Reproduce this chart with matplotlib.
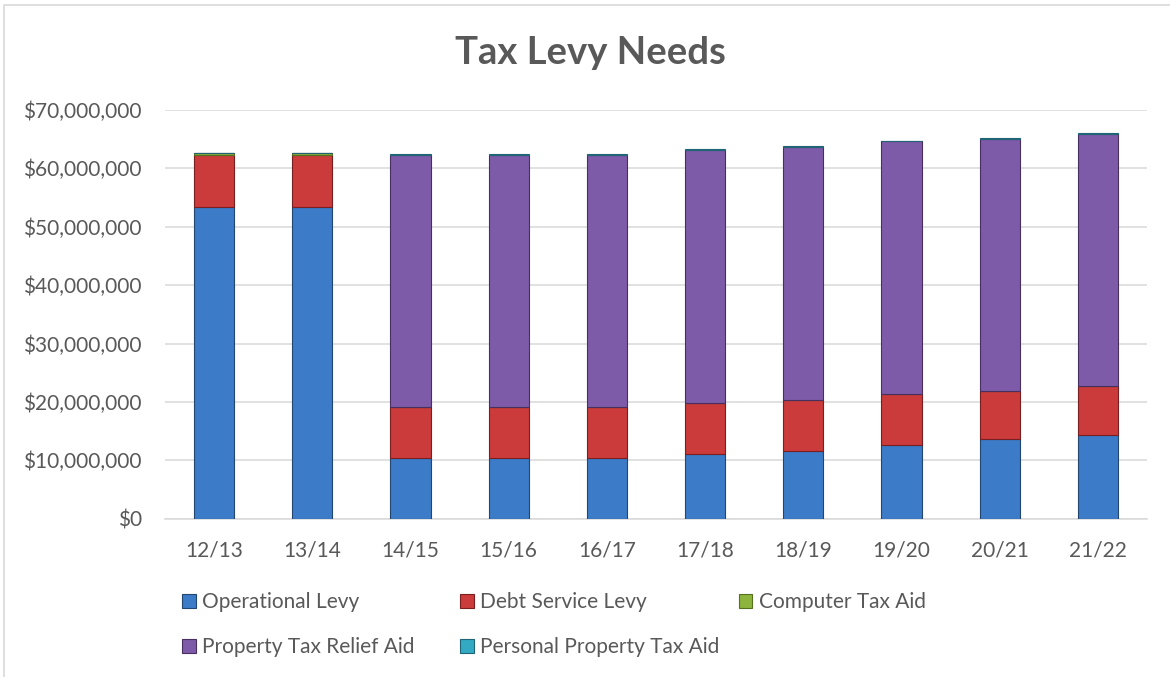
import matplotlib
matplotlib.use("Agg")
import matplotlib.pyplot as plt
from matplotlib.patches import Rectangle, Patch
from matplotlib.ticker import FuncFormatter, MultipleLocator
import numpy as np

# ---- data (millions of dollars) ----
years = ["12/13", "13/14", "14/15", "15/16", "16/17", "17/18", "18/19", "19/20", "20/21", "21/22"]
operational_levy = [53.4, 53.4, 10.4, 10.4, 10.4, 11.1, 11.6, 12.7, 13.6, 14.4]
debt_service_levy = [8.9, 8.9, 8.8, 8.8, 8.8, 8.75, 8.7, 8.7, 8.3, 8.3]
computer_tax_aid = [0.3, 0.3, 0, 0, 0, 0, 0, 0, 0, 0]
property_tax_relief_aid = [0, 0, 43.1, 43.1, 43.1, 43.35, 43.4, 43.2, 43.2, 43.2]
personal_property_tax_aid = [0, 0, 0.1, 0.1, 0.1, 0.1, 0.1, 0.1, 0.1, 0.1]

series_names = ["Operational Levy", "Debt Service Levy", "Computer Tax Aid",
                "Property Tax Relief Aid", "Personal Property Tax Aid"]
series_values = [operational_levy, debt_service_levy, computer_tax_aid,
                 property_tax_relief_aid, personal_property_tax_aid]
face_colors = ["#3c7bc7", "#cc3b3b", "#8db43c", "#7d5ba8", "#34a9c4"]
edge_colors = ["#22466f", "#7a1f1f", "#55701f", "#47305f", "#1f6577"]

FONT = "Lato"
TXT = "#595959"
W, H = 1170, 677

fig = plt.figure(figsize=(W / 100, H / 100), dpi=100)
fig.patch.set_facecolor("white")

def fx(px):
    return px / W

def fy(py):
    return 1 - py / H

ax = fig.add_axes([fx(165), fy(518.7), fx(1147) - fx(165), fy(109.9) - fy(518.7)])

x = np.arange(len(years))
bottom = np.zeros(len(years))
for name, vals, fc, ec in zip(series_names, series_values, face_colors, edge_colors):
    v = np.array(vals) * 1e6
    ax.bar(x, v, width=0.41, bottom=bottom, color=fc, edgecolor=ec, linewidth=0.8,
           zorder=3, label=name)
    bottom += v

ax.set_xlim(-0.5, len(years) - 0.5)
ax.set_ylim(0, 70e6)
ax.yaxis.set_major_locator(MultipleLocator(10e6))
ax.yaxis.set_major_formatter(FuncFormatter(lambda v, p: "${:,.0f}".format(v)))
ax.set_xticks(x)
ax.set_xticklabels(years)
ax.grid(axis="y", color="#d9d9d9", linewidth=1.1, zorder=0)
for s in ["top", "right", "left"]:
    ax.spines[s].set_visible(False)
ax.spines["bottom"].set_color("#d9d9d9")
ax.spines["bottom"].set_linewidth(1.1)
ax.tick_params(axis="both", length=0, labelsize=15, labelcolor=TXT)
ax.tick_params(axis="y", pad=16.8)
ax.tick_params(axis="x", pad=16)
for lab in ax.get_xticklabels() + ax.get_yticklabels():
    lab.set_fontfamily(FONT)

fig.text(fx(590), fy(52.5), "Tax Levy Needs", ha="center", va="center",
         fontsize=27.5, fontweight="bold", color=TXT, family=FONT)

# legend entries placed individually (Excel-like uniform columns)
legend_pos = [(181.6, 602), (460, 602), (738.5, 602), (181.6, 647), (460, 647)]
for (px, py), name, fc, ec in zip(legend_pos, series_names, face_colors, edge_colors):
    h = Patch(facecolor=fc, edgecolor=ec, linewidth=0.8)
    lg = fig.legend(handles=[h], labels=[name], loc="center left",
                    bbox_to_anchor=(fx(px), fy(py)), frameon=False,
                    borderpad=0, borderaxespad=0, handlelength=0.67, handleheight=0.67,
                    handletextpad=0.3, prop={"family": FONT, "size": 15})
    for t in lg.get_texts():
        t.set_color(TXT)

# chart area border (left and top visible)
fig.patches.append(Rectangle((fx(3.7), fy(800)), 2, fy(5.3) - fy(800), transform=fig.transFigure,
                             fill=False, edgecolor="#d9d9d9", linewidth=1.2))

fig.savefig("out.png", dpi=100, facecolor="white")
